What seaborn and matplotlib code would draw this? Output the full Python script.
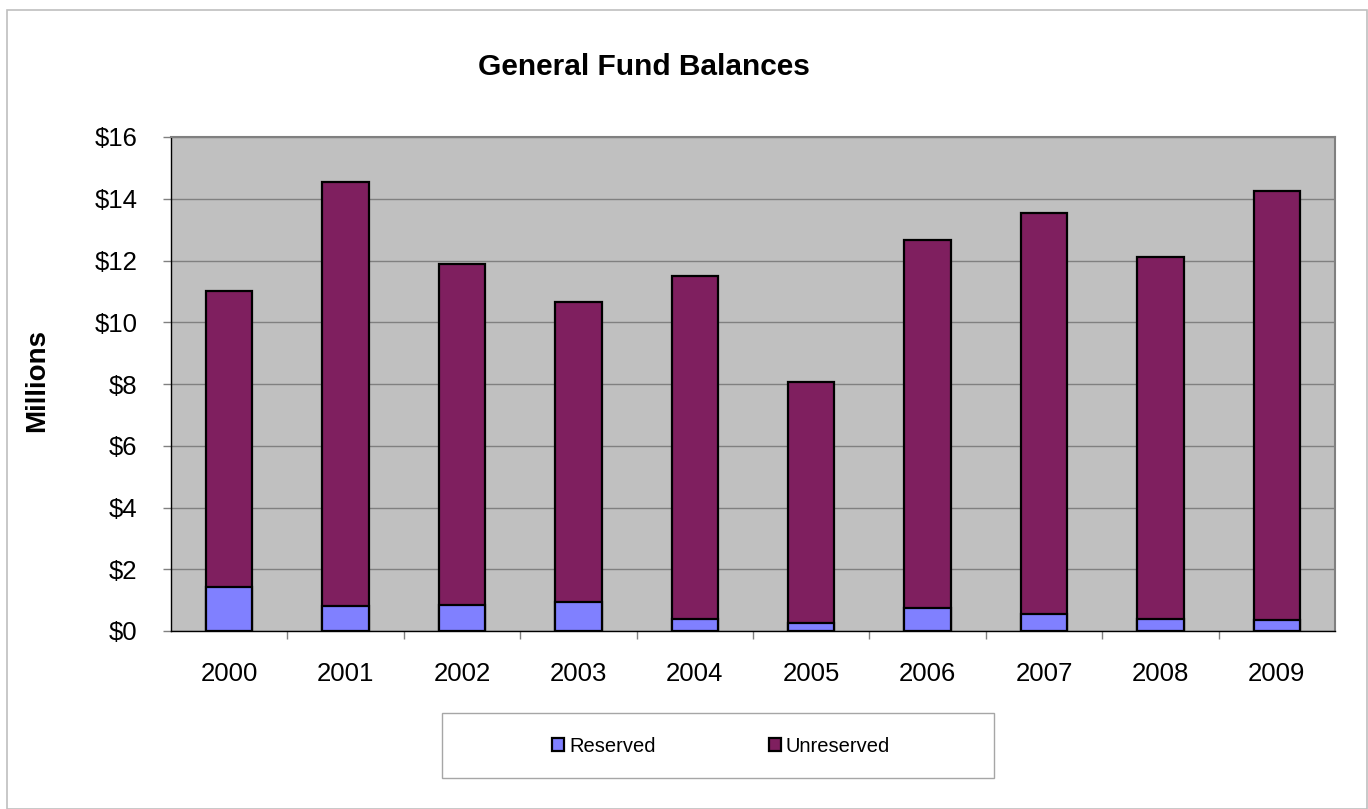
import matplotlib
matplotlib.use("Agg")
import matplotlib.pyplot as plt
from matplotlib.patches import Rectangle, Patch
from matplotlib.ticker import FuncFormatter, FixedLocator
import numpy as np
import pandas as pd
import seaborn as sns

# General fund balances, in millions of dollars
years = ["2000", "2001", "2002", "2003", "2004", "2005", "2006", "2007", "2008", "2009"]
reserved = [1.43, 0.82, 0.85, 0.94, 0.39, 0.27, 0.73, 0.56, 0.38, 0.36]
unreserved = [9.59, 13.71, 11.03, 9.71, 11.12, 7.81, 11.93, 12.99, 11.72, 13.90]
y_ticks = [0, 2, 4, 6, 8, 10, 12, 14, 16]

RESERVED_COLOR = "#8080FF"
UNRESERVED_COLOR = "#7F1F5F"
PLOT_BG = "#C0C0C0"
GRID_GRAY = "#808080"

df = pd.DataFrame({"year": years, "reserved": reserved, "unreserved": unreserved})
df["total"] = df["reserved"] + df["unreserved"]

sns.set_theme(style="white")
plt.rcParams["font.family"] = ["Liberation Sans", "DejaVu Sans"]
plt.rcParams["text.color"] = "black"
plt.rcParams["axes.labelcolor"] = "black"
plt.rcParams["xtick.color"] = "black"
plt.rcParams["ytick.color"] = "black"

W, H = 1368, 809
fig = plt.figure(figsize=(W / 100, H / 100), dpi=100)
fig.patch.set_facecolor("white")

left, right, top, bottom = 171, 1335, 137, 631
ax = fig.add_axes([left / W, 1 - bottom / H, (right - left) / W, (bottom - top) / H])
ax.set_facecolor(PLOT_BG)

edge = dict(edgecolor="black", linewidth=1.6)
# stacked bars: full height in the unreserved colour, reserved portion drawn over it
sns.barplot(data=df, x="year", y="total", color=UNRESERVED_COLOR, width=0.4,
            saturation=1, ax=ax, zorder=3, **edge)
sns.barplot(data=df, x="year", y="reserved", color=RESERVED_COLOR, width=0.4,
            saturation=1, ax=ax, zorder=4, **edge)

ax.set_xlim(-0.5, len(years) - 0.5)
ax.set_ylim(0, 16)
ax.set_yticks(y_ticks)
ax.yaxis.set_major_formatter(FuncFormatter(lambda v, p: f"${v:.0f}"))
ax.grid(axis="y", color=GRID_GRAY, linewidth=1.0, zorder=0)
ax.set_axisbelow(True)
ax.set_xlabel("")
ax.set_ylabel("")

# category boundary ticks on the x axis, labels centred under each bar
ax.xaxis.set_minor_locator(FixedLocator(np.arange(0.5, len(years) - 0.5, 1.0)))
ax.tick_params(axis="x", which="major", length=0, pad=22, labelsize=18.5,
               labelcolor="black")
ax.tick_params(axis="x", which="minor", length=6, width=1, color=GRID_GRAY, bottom=True)
ax.tick_params(axis="y", which="major", length=6, width=1, color=GRID_GRAY, pad=18,
               labelsize=18.5, left=True, labelcolor="black")

for side in ("left", "bottom"):
    ax.spines[side].set_color("black")
    ax.spines[side].set_linewidth(1.0)
for side in ("top", "right"):
    ax.spines[side].set_color(GRID_GRAY)
    ax.spines[side].set_linewidth(1.5)
    ax.spines[side].set_visible(True)

# chart border
fig.add_artist(Rectangle((6.5 / W, 1 - 808.5 / H), (1366.5 - 6.5) / W, (808.5 - 9.5) / H,
                         transform=fig.transFigure, fill=False,
                         edgecolor="#BFBFBF", linewidth=1.2))

fig.text(644 / W, 1 - 75 / H, "General Fund Balances", ha="center", va="baseline",
         fontsize=21.5, fontweight="bold")
fig.text(37.5 / W, 1 - 381 / H, "Millions", ha="center", va="center",
         rotation=90, fontsize=20, fontweight="bold")

# legend box
lx0, lx1, ly0, ly1 = 442, 994, 713, 778
fig.add_artist(Rectangle((lx0 / W, 1 - ly1 / H), (lx1 - lx0) / W, (ly1 - ly0) / H,
                         transform=fig.transFigure, fill=False,
                         edgecolor="#A6A6A6", linewidth=1.0))
handles = [Patch(facecolor=RESERVED_COLOR, edgecolor="black", linewidth=1.6, label="Reserved"),
           Patch(facecolor=UNRESERVED_COLOR, edgecolor="black", linewidth=1.6, label="Unreserved")]
fig.legend(handles=handles, loc="center", bbox_to_anchor=(721 / W, 1 - 746 / H),
           ncol=2, frameon=False, fontsize=14.5, handlelength=0.6, handleheight=0.6,
           handletextpad=0.25, columnspacing=5.6, borderpad=0)

fig.savefig("out.png", dpi=100)
